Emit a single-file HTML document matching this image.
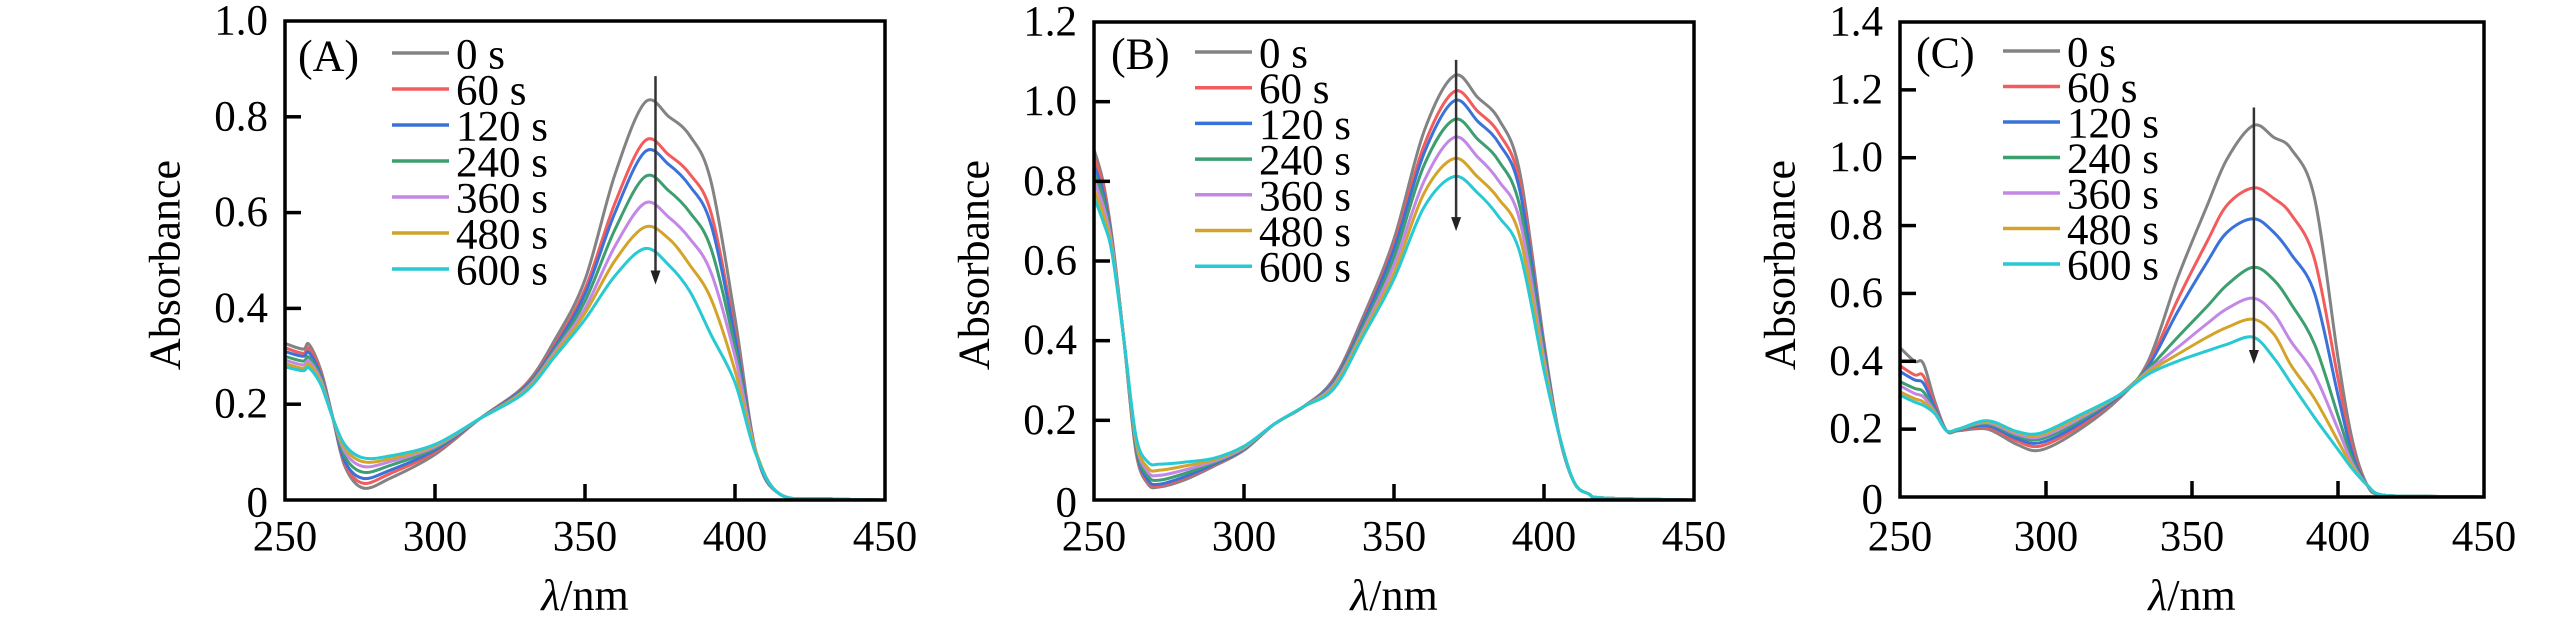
<!DOCTYPE html>
<html><head><meta charset="utf-8">
<style>
html,body{margin:0;padding:0;background:#fff;}
svg{display:block;font-family:"Liberation Serif","Times New Roman","DejaVu Serif",serif;}
svg text, svg tspan{font-family:"Liberation Serif","Times New Roman","DejaVu Serif",serif !important;}
</style></head>
<body>
<svg id="fig" width="2567" height="624" viewBox="0 0 2567 624" xmlns="http://www.w3.org/2000/svg"></svg>
<script>
// ---- data ----
const seriesLabels = ["0 s","60 s","120 s","240 s","360 s","480 s","600 s"];
const xTicks = [250,300,350,400,450];

const wavelengthsA = [250,256,258,262,266,270,276,285,300,315,330,340,350,360,370,378,385,392,400,407,415,430,450];
const a0   = [0.327,0.315,0.325,0.27,0.17,0.07,0.025,0.045,0.095,0.17,0.24,0.335,0.46,0.68,0.83,0.80,0.76,0.665,0.38,0.10,0.012,0.003,0];
const a60  = [0.318,0.306,0.316,0.265,0.17,0.075,0.035,0.055,0.10,0.17,0.238,0.325,0.44,0.62,0.75,0.72,0.68,0.60,0.35,0.10,0.012,0.003,0];
const a120 = [0.31,0.30,0.308,0.26,0.17,0.08,0.045,0.062,0.104,0.17,0.236,0.32,0.43,0.60,0.727,0.70,0.655,0.575,0.34,0.10,0.012,0.003,0];
const a240 = [0.30,0.29,0.298,0.255,0.17,0.09,0.058,0.072,0.108,0.17,0.233,0.315,0.415,0.565,0.675,0.645,0.60,0.525,0.32,0.10,0.012,0.003,0];
const a360 = [0.292,0.282,0.29,0.25,0.17,0.10,0.07,0.08,0.111,0.17,0.23,0.31,0.40,0.53,0.62,0.59,0.545,0.475,0.30,0.10,0.012,0.003,0];
const a480 = [0.285,0.275,0.283,0.245,0.17,0.108,0.08,0.086,0.114,0.17,0.228,0.305,0.39,0.50,0.57,0.545,0.49,0.42,0.27,0.10,0.012,0.003,0];
const a600 = [0.278,0.27,0.276,0.24,0.17,0.115,0.088,0.092,0.116,0.17,0.225,0.30,0.377,0.468,0.525,0.49,0.435,0.345,0.245,0.095,0.012,0.003,0];
const yTicksA = [0,0.2,0.4,0.6,0.8,1.0];
const yTickLabelsA = ["0","0.2","0.4","0.6","0.8","1.0"];

const wavelengthsB = [250,253,256,260,264,268,272,280,290,300,310,320,330,340,350,360,370,378,385,392,400,405,410,415,420,450];
const b0   = [0.88,0.80,0.66,0.40,0.12,0.04,0.033,0.05,0.085,0.125,0.19,0.235,0.305,0.465,0.655,0.925,1.065,1.01,0.955,0.82,0.395,0.165,0.045,0.015,0.005,0];
const b60  = [0.86,0.79,0.655,0.40,0.125,0.045,0.036,0.055,0.088,0.126,0.19,0.235,0.30,0.455,0.64,0.89,1.025,0.975,0.92,0.795,0.385,0.165,0.045,0.015,0.005,0];
const b120 = [0.84,0.775,0.65,0.40,0.13,0.05,0.04,0.058,0.09,0.127,0.19,0.235,0.298,0.45,0.63,0.87,1.002,0.95,0.895,0.775,0.38,0.165,0.045,0.015,0.005,0];
const b240 = [0.82,0.76,0.645,0.40,0.135,0.06,0.05,0.066,0.094,0.129,0.19,0.235,0.294,0.44,0.61,0.84,0.955,0.905,0.85,0.735,0.37,0.165,0.045,0.015,0.005,0];
const b360 = [0.80,0.74,0.64,0.40,0.145,0.07,0.062,0.075,0.097,0.131,0.19,0.235,0.29,0.43,0.59,0.80,0.91,0.86,0.80,0.70,0.355,0.165,0.045,0.015,0.005,0];
const b480 = [0.78,0.72,0.63,0.40,0.15,0.08,0.075,0.085,0.101,0.133,0.19,0.235,0.285,0.423,0.57,0.77,0.857,0.81,0.755,0.66,0.34,0.165,0.045,0.015,0.005,0];
const b600 = [0.76,0.70,0.62,0.40,0.16,0.095,0.09,0.095,0.105,0.135,0.19,0.235,0.28,0.415,0.555,0.735,0.812,0.77,0.71,0.62,0.325,0.165,0.045,0.015,0.005,0];
const yTicksB = [0,0.2,0.4,0.6,0.8,1.0,1.2];
const yTickLabelsB = ["0","0.2","0.4","0.6","0.8","1.0","1.2"];

const wavelengthsC = [250,255,258,262,266,270,280,290,298,310,325,335,345,355,362,371,378,384,392,400,405,410,415,430,450];
const c0   = [0.44,0.40,0.393,0.28,0.195,0.195,0.20,0.155,0.138,0.19,0.29,0.40,0.644,0.855,0.996,1.095,1.06,1.025,0.88,0.41,0.164,0.035,0.006,0.002,0];
const c60  = [0.387,0.36,0.357,0.27,0.195,0.197,0.205,0.165,0.15,0.20,0.295,0.39,0.58,0.75,0.86,0.911,0.88,0.832,0.70,0.35,0.14,0.035,0.006,0.002,0];
const c120 = [0.37,0.345,0.335,0.262,0.195,0.198,0.21,0.172,0.16,0.208,0.297,0.385,0.545,0.69,0.78,0.82,0.78,0.715,0.60,0.30,0.125,0.035,0.006,0.002,0];
const c240 = [0.34,0.32,0.31,0.255,0.195,0.199,0.215,0.18,0.17,0.217,0.30,0.378,0.47,0.56,0.625,0.677,0.64,0.568,0.45,0.24,0.11,0.035,0.006,0.002,0];
const c360 = [0.328,0.305,0.295,0.25,0.195,0.2,0.219,0.185,0.177,0.224,0.30,0.372,0.44,0.51,0.555,0.586,0.54,0.457,0.36,0.20,0.097,0.035,0.006,0.002,0];
const c480 = [0.31,0.29,0.28,0.247,0.195,0.2,0.222,0.19,0.183,0.23,0.30,0.368,0.42,0.47,0.50,0.524,0.48,0.387,0.29,0.165,0.088,0.035,0.006,0.002,0];
const c600 = [0.30,0.28,0.27,0.245,0.195,0.2,0.225,0.193,0.188,0.235,0.30,0.362,0.40,0.43,0.45,0.471,0.41,0.334,0.234,0.14,0.082,0.035,0.006,0.002,0];
const yTicksC = [0,0.2,0.4,0.6,0.8,1.0,1.2,1.4];
const yTickLabelsC = ["0","0.2","0.4","0.6","0.8","1.0","1.2","1.4"];

const arrowA = [373.5, 0.885, 0.45];
const arrowB = [370.7, 1.105, 0.675];
const arrowC = [371.2, 1.148, 0.392];

// ---- drawing ----
const colors = ["#838383","#f25c5c","#3b72d9","#3d9e6f","#c387e6","#d4a42a","#27c9d3"];
const FONT = "'Liberation Serif', 'Times New Roman', 'DejaVu Serif', serif";
const NS = "http://www.w3.org/2000/svg";
const svg = document.getElementById("fig");
function mk(tag, attrs, parent){
  const e = document.createElementNS(NS, tag);
  for (const k in attrs) e.setAttribute(k, attrs[k]);
  if (tag === "text") e.style.fontFamily = FONT;
  (parent||svg).appendChild(e);
  return e;
}
function smoothPath(pts){
  let d = "M"+pts[0][0].toFixed(1)+","+pts[0][1].toFixed(1);
  for (let i=0;i<pts.length-1;i++){
    const p0=pts[Math.max(0,i-1)], p1=pts[i], p2=pts[i+1], p3=pts[Math.min(pts.length-1,i+2)];
    const c1=[p1[0]+(p2[0]-p0[0])/6, p1[1]+(p2[1]-p0[1])/6];
    const c2=[p2[0]-(p3[0]-p1[0])/6, p2[1]-(p3[1]-p1[1])/6];
    d += " C"+c1[0].toFixed(1)+","+c1[1].toFixed(1)+" "+c2[0].toFixed(1)+","+c2[1].toFixed(1)+" "+p2[0].toFixed(1)+","+p2[1].toFixed(1);
  }
  return d;
}

function panel(cfg){
  const g = mk("g", {});
  
  
  const L=cfg.left, R=cfg.right, T=cfg.top, B=cfg.bottom, yMax=cfg.yMax;
  const xs = v => L + (v-250)/200*(R-L);
  const ys = v => B - v/yMax*(B-T);

  const sg = mk("g", {}, g);
  
  
  cfg.series.forEach((vals, si) => {
    const pts = vals.map((v,i)=>[xs(cfg.w[i]), ys(v)]);
    const p = mk("path", {d:smoothPath(pts), fill:"none", stroke:colors[si], "stroke-width":3, "stroke-linejoin":"round"}, sg);
    
    
  });

  const ax = xs(cfg.arrow[0]), ay1 = ys(cfg.arrow[1]), ay2 = ys(cfg.arrow[2]);
  const ar = mk("g", {}, g);
  
  
  mk("line", {x1:ax, y1:ay1, x2:ax, y2:ay2-8, stroke:"#333", "stroke-width":2.5}, ar);
  mk("polygon", {points:(ax-5)+","+(ay2-14)+" "+(ax+5)+","+(ay2-14)+" "+ax+","+ay2, fill:"#222"}, ar);

  const fr = mk("rect", {x:L, y:T, width:R-L, height:B-T, fill:"none", stroke:"#000", "stroke-width":3.5}, g);
  
  

  xTicks.forEach(t => {
    const x = xs(t);
    if (t>250 && t<450) mk("line", {x1:x, y1:B, x2:x, y2:B-16, stroke:"#000", "stroke-width":3.5}, g);
    const tx = mk("text", {x:x, y:537, "font-size":43, "text-anchor":"middle", "dominant-baseline":"central"}, g);
    tx.textContent = t;
    
    
  });
  cfg.yTicks.forEach((t,i) => {
    const y = ys(t);
    if (t>0 && t<yMax-1e-9) mk("line", {x1:L, y1:y, x2:L+16, y2:y, stroke:"#000", "stroke-width":3.5}, g);
    const ty = mk("text", {x:L-17, y:(t===0? y+3 : y), "font-size":43, "text-anchor":"end", "dominant-baseline":"central"}, g);
    ty.textContent = cfg.yLabels[i];
    
    
  });

  const yt = mk("text", {x:0, y:0, "font-size":44, "text-anchor":"middle", "dominant-baseline":"central", transform:"translate("+(L-120)+",265) rotate(-90)"}, g);
  yt.textContent = "Absorbance";
  
  
  const xt = mk("text", {x:(L+R)/2, y:595, "font-size":44, "text-anchor":"middle", "dominant-baseline":"central"}, g);
  
  
  const lam = mk("tspan", {"font-style":"italic"}, xt);
  lam.textContent = "λ";
  const rest = mk("tspan", {}, xt);
  rest.textContent = "/nm";

  const pl = mk("text", {x:cfg.lblX, y:cfg.lblY, "font-size":44, "dominant-baseline":"central"}, g);
  pl.textContent = "(" + cfg.id + ")";
  
  

  const lg = mk("g", {}, g);
  
  
  seriesLabels.forEach((s,i) => {
    const y = cfg.legY + i*cfg.legDy;
    const it = mk("g", {}, lg);
    
    
    mk("line", {x1:cfg.legX, y1:y, x2:cfg.legX+57, y2:y, stroke:colors[i], "stroke-width":3.5}, it);
    const t = mk("text", {x:cfg.legX+64, y:y+2, "font-size":43, "dominant-baseline":"central"}, it);
    t.textContent = s;
  });
}

panel({id:"A", left:285, right:885, top:21, bottom:500, yMax:1.0, w:wavelengthsA,
  series:[a0,a60,a120,a240,a360,a480,a600], arrow:arrowA, yTicks:yTicksA, yLabels:yTickLabelsA,
  lblX:298, lblY:56, legX:392, legY:53, legDy:36});
panel({id:"B", left:1094, right:1694, top:22, bottom:500, yMax:1.2, w:wavelengthsB,
  series:[b0,b60,b120,b240,b360,b480,b600], arrow:arrowB, yTicks:yTicksB, yLabels:yTickLabelsB,
  lblX:1111, lblY:54, legX:1195, legY:52, legDy:35.7});
panel({id:"C", left:1900, right:2484, top:22, bottom:497, yMax:1.4, w:wavelengthsC,
  series:[c0,c60,c120,c240,c360,c480,c600], arrow:arrowC, yTicks:yTicksC, yLabels:yTickLabelsC,
  lblX:1916, lblY:53, legX:2003, legY:51, legDy:35.5});
</script>
</body></html>
